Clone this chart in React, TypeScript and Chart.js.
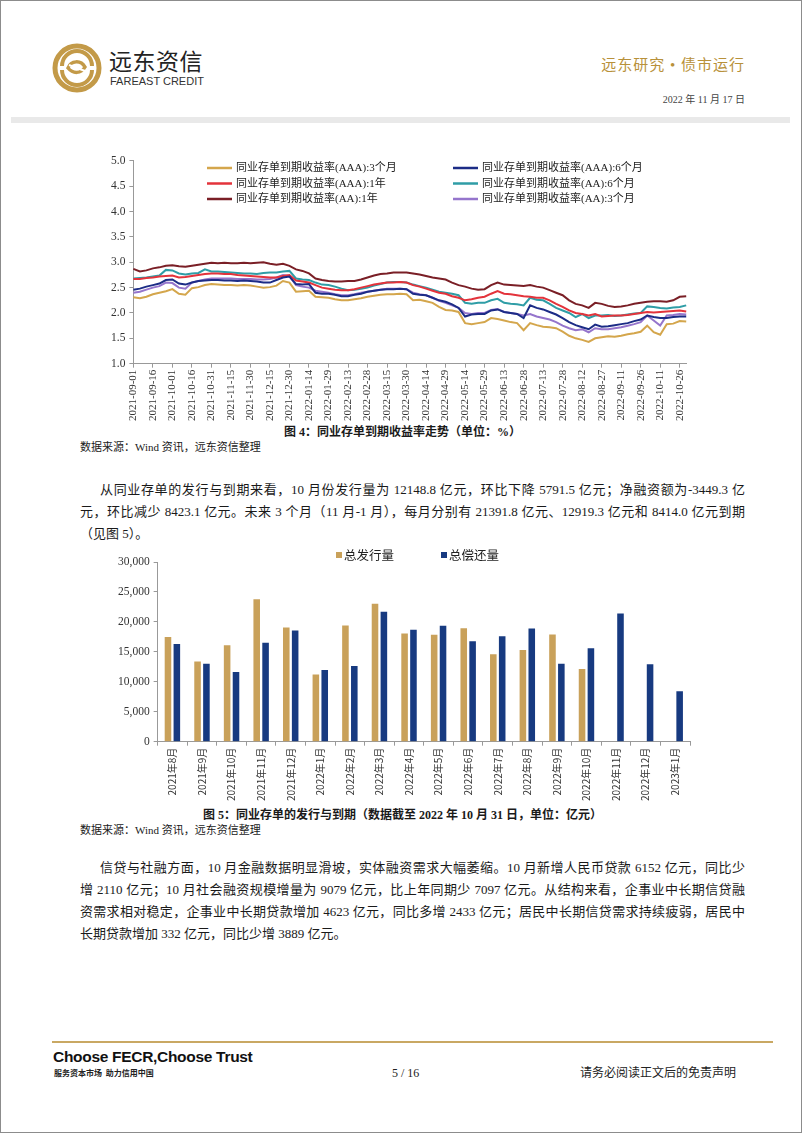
import React, { useEffect, useRef } from "react";
import { Chart, registerables } from "chart.js";
Chart.register(...registerables);

// ---------- Chart 1 data (every 5 days from 2021-09-01) ----------
const START_UTC = Date.UTC(2021, 8, 1);
const dates: string[] = Array.from({ length: 86 }, (_, i) =>
  new Date(START_UTC + i * 5 * 86400000).toISOString().slice(0, 10)
);
const tickDates = [
  "2021-09-01", "2021-09-16", "2021-10-01", "2021-10-16", "2021-10-31", "2021-11-15", "2021-11-30",
  "2021-12-15", "2021-12-30", "2022-01-14", "2022-01-29", "2022-02-13", "2022-02-28", "2022-03-15",
  "2022-03-30", "2022-04-14", "2022-04-29", "2022-05-14", "2022-05-29", "2022-06-13", "2022-06-28",
  "2022-07-13", "2022-07-28", "2022-08-12", "2022-08-27", "2022-09-11", "2022-09-26", "2022-10-11",
  "2022-10-26",
];
const seriesNames = [
  "同业存单到期收益率(AAA):3个月",
  "同业存单到期收益率(AAA):6个月",
  "同业存单到期收益率(AAA):1年",
  "同业存单到期收益率(AA):6个月",
  "同业存单到期收益率(AA):1年",
  "同业存单到期收益率(AA):3个月",
];
const aaa3m = [2.31,2.29,2.32,2.37,2.40,2.43,2.47,2.38,2.36,2.49,2.51,2.55,2.57,2.56,2.55,2.55,2.54,2.55,2.54,2.52,2.50,2.51,2.54,2.63,2.60,2.42,2.43,2.44,2.32,2.31,2.30,2.27,2.25,2.25,2.27,2.29,2.32,2.34,2.36,2.37,2.37,2.38,2.37,2.25,2.26,2.23,2.20,2.12,2.06,2.05,2.02,1.80,1.78,1.80,1.82,1.90,1.88,1.85,1.82,1.80,1.66,1.80,1.76,1.73,1.72,1.70,1.63,1.55,1.50,1.47,1.43,1.50,1.52,1.54,1.53,1.55,1.58,1.60,1.63,1.75,1.62,1.57,1.78,1.79,1.84,1.83];
const aaa6m = [2.46,2.48,2.52,2.55,2.58,2.65,2.66,2.58,2.56,2.60,2.63,2.64,2.65,2.65,2.64,2.64,2.63,2.64,2.63,2.62,2.60,2.60,2.65,2.70,2.72,2.57,2.56,2.57,2.40,2.38,2.38,2.36,2.33,2.33,2.36,2.38,2.42,2.44,2.46,2.47,2.47,2.48,2.47,2.38,2.36,2.35,2.30,2.25,2.22,2.17,2.10,1.93,1.97,1.98,1.98,2.05,2.07,2.02,2.00,1.98,1.90,2.15,2.10,2.07,2.02,1.97,1.90,1.82,1.76,1.72,1.68,1.77,1.73,1.74,1.76,1.78,1.80,1.84,1.87,1.95,1.92,1.90,1.90,1.92,1.93,1.93];
const aaa1y = [2.67,2.67,2.69,2.70,2.72,2.73,2.74,2.70,2.71,2.73,2.75,2.77,2.78,2.78,2.77,2.77,2.75,2.74,2.73,2.72,2.71,2.70,2.70,2.73,2.75,2.64,2.62,2.60,2.55,2.50,2.48,2.46,2.45,2.45,2.47,2.50,2.53,2.56,2.58,2.60,2.60,2.61,2.60,2.55,2.52,2.48,2.44,2.40,2.38,2.33,2.30,2.25,2.27,2.30,2.32,2.38,2.43,2.38,2.37,2.35,2.33,2.32,2.30,2.30,2.25,2.18,2.12,2.05,2.00,1.98,1.95,1.98,1.93,1.94,1.95,1.95,1.96,1.98,2.00,2.02,2.01,2.02,2.03,2.04,2.05,2.03];
const aa6m = [2.68,2.69,2.70,2.72,2.74,2.85,2.84,2.78,2.76,2.78,2.79,2.86,2.82,2.82,2.81,2.80,2.79,2.78,2.78,2.77,2.79,2.80,2.80,2.82,2.83,2.68,2.66,2.65,2.60,2.56,2.55,2.52,2.48,2.45,2.46,2.48,2.50,2.54,2.57,2.60,2.61,2.61,2.60,2.56,2.53,2.50,2.46,2.42,2.40,2.38,2.35,2.20,2.18,2.20,2.20,2.25,2.28,2.20,2.18,2.17,2.15,2.30,2.26,2.25,2.18,2.10,2.05,2.00,1.92,1.98,1.90,1.95,1.95,1.96,1.94,1.95,1.97,1.99,2.00,2.13,2.12,2.10,2.09,2.11,2.12,2.15];
const aa1y = [2.87,2.82,2.84,2.88,2.90,2.93,2.94,2.92,2.91,2.93,2.95,2.97,2.99,2.98,2.99,2.98,2.98,2.99,2.98,2.99,3.00,2.97,2.95,2.97,2.93,2.86,2.83,2.78,2.68,2.65,2.63,2.62,2.62,2.63,2.63,2.66,2.70,2.74,2.77,2.78,2.80,2.80,2.80,2.78,2.76,2.73,2.70,2.68,2.66,2.60,2.55,2.52,2.48,2.46,2.47,2.55,2.60,2.56,2.55,2.54,2.53,2.55,2.52,2.50,2.45,2.40,2.35,2.25,2.18,2.15,2.10,2.20,2.18,2.14,2.12,2.13,2.15,2.18,2.20,2.22,2.23,2.23,2.22,2.25,2.32,2.33];
const aa3m = [2.40,2.42,2.46,2.50,2.53,2.60,2.59,2.50,2.48,2.60,2.63,2.66,2.68,2.68,2.68,2.68,2.67,2.67,2.67,2.66,2.66,2.67,2.70,2.75,2.73,2.55,2.52,2.50,2.44,2.42,2.40,2.37,2.35,2.35,2.37,2.40,2.42,2.44,2.46,2.48,2.48,2.48,2.47,2.40,2.37,2.35,2.30,2.24,2.20,2.15,2.10,2.00,1.98,2.00,2.00,2.06,2.08,2.02,2.00,1.98,1.95,1.98,1.93,1.90,1.87,1.82,1.75,1.70,1.66,1.68,1.62,1.70,1.68,1.68,1.70,1.72,1.75,1.78,1.82,1.95,1.85,1.75,1.95,1.96,1.98,1.97];
const lineSeries = [aaa3m, aaa6m, aaa1y, aa6m, aa1y, aa3m];
const lineColors = ["#D4A64C", "#1C2C86", "#E3333B", "#2F9DA6", "#7A1F26", "#9575CC"];
const yTicks1 = [1.0, 1.5, 2.0, 2.5, 3.0, 3.5, 4.0, 4.5, 5.0];

// ---------- Chart 2 data ----------
const months = [
  "2021年8月", "2021年9月", "2021年10月", "2021年11月", "2021年12月", "2022年1月", "2022年2月",
  "2022年3月", "2022年4月", "2022年5月", "2022年6月", "2022年7月", "2022年8月", "2022年9月",
  "2022年10月", "2022年11月", "2022年12月", "2023年1月",
];
const issuance = [17500, 13400, 16100, 23800, 19050, 11200, 19400, 23050, 18050, 17850, 18950, 14600, 15300, 17900, 12148.8, null, null, null];
const redemption = [16300, 13000, 11650, 16500, 18550, 11950, 12650, 21700, 18700, 19350, 16750, 17600, 18900, 13000, 15598.1, 21391.8, 12919.3, 8414.0];
const barNames = ["总发行量", "总偿还量"];
const barColors = ["#C9A15A", "#173A80"];

const SERIF = '"Liberation Serif", "Noto Sans CJK SC", serif';
const SANS_CJK = '"Noto Sans CJK SC", "Liberation Sans", sans-serif';

const lineLegendPlugin = {
  id: "lineLegend",
  afterDraw(chart: any) {
    const ctx = chart.ctx;
    const colX = [122, 368];
    const rowY = [18, 33.5, 49];
    ctx.save();
    ctx.font = '11px "Liberation Serif", "Noto Sans CJK SC"';
    ctx.textBaseline = "middle";
    chart.data.datasets.forEach((ds: any, i: number) => {
      const x = colX[i % 2];
      const y = rowY[Math.floor(i / 2)];
      ctx.strokeStyle = ds.borderColor;
      ctx.lineWidth = 2.5;
      ctx.beginPath();
      ctx.moveTo(x, y);
      ctx.lineTo(x + 25, y);
      ctx.stroke();
      ctx.fillStyle = "#222";
      ctx.fillText(ds.label, x + 29, y + 0.5);
    });
    ctx.restore();
  },
};

const barLegendPlugin = {
  id: "barLegend",
  afterDraw(chart: any) {
    const ctx = chart.ctx;
    const xs = [236, 341];
    const y = 15;
    ctx.save();
    ctx.font = '12.5px "Noto Sans CJK SC"';
    ctx.textBaseline = "middle";
    chart.data.datasets.forEach((ds: any, i: number) => {
      ctx.fillStyle = ds.backgroundColor;
      ctx.fillRect(xs[i], y - 3, 6, 6);
      ctx.fillStyle = "#222";
      ctx.fillText(ds.label, xs[i] + 8, y);
    });
    ctx.restore();
  },
};

function LineChart() {
  const ref = useRef<HTMLCanvasElement>(null);
  useEffect(() => {
    const chart = new Chart(ref.current!, {
      type: "line",
      data: {
        labels: dates,
        datasets: lineSeries.map((d, i) => ({
          label: seriesNames[i],
          data: d,
          borderColor: lineColors[i],
          backgroundColor: lineColors[i],
          borderWidth: 2,
          pointRadius: 0,
          tension: 0,
        })),
      },
      options: {
        animation: false,
        responsive: false,
        maintainAspectRatio: false,
        layout: { padding: { left: 22, right: 8, top: 10, bottom: 0 } },
        plugins: { legend: { display: false }, tooltip: { enabled: false } },
        scales: {
          x: {
            grid: { display: true, drawOnChartArea: false, drawTicks: true, tickLength: 4, color: "#999" },
            border: { color: "#999" },
            ticks: {
              autoSkip: false,
              maxRotation: 90,
              minRotation: 90,
              padding: 2,
              color: "#333",
              font: { family: SERIF, size: 11 },
              callback: (_v: any, i: number) => (tickDates.includes(dates[i]) ? dates[i] : null),
            },
          },
          y: {
            min: 1,
            max: 5,
            afterBuildTicks: (axis: any) => {
              axis.ticks = yTicks1.map((v) => ({ value: v }));
            },
            grid: { display: true, drawOnChartArea: false, drawTicks: true, tickLength: 4, color: "#999" },
            border: { color: "#999" },
            ticks: {
              padding: 4,
              color: "#333",
              font: { family: SERIF, size: 11.5 },
              callback: (v: any) => Number(v).toFixed(1),
            },
          },
        },
      } as any,
      plugins: [lineLegendPlugin],
    });
    return () => chart.destroy();
  }, []);
  return (
    <canvas
      ref={ref}
      width={610}
      height={273}
      style={{ position: "absolute", left: 85, top: 150, width: 610, height: 273 }}
    />
  );
}

function BarChart() {
  const ref = useRef<HTMLCanvasElement>(null);
  useEffect(() => {
    const chart = new Chart(ref.current!, {
      type: "bar",
      data: {
        labels: months,
        datasets: [issuance, redemption].map((d, i) => ({
          label: barNames[i],
          data: d,
          backgroundColor: barColors[i],
          categoryPercentage: 0.6,
          barPercentage: 0.74,
        })),
      },
      options: {
        animation: false,
        responsive: false,
        maintainAspectRatio: false,
        layout: { padding: { left: 14, right: 10, top: 22, bottom: 0 } },
        plugins: { legend: { display: false }, tooltip: { enabled: false } },
        scales: {
          x: {
            grid: { display: true, drawOnChartArea: false, drawTicks: true, tickLength: 4, color: "#999", offset: true },
            border: { color: "#999" },
            ticks: {
              autoSkip: false,
              maxRotation: 90,
              minRotation: 90,
              padding: 2,
              color: "#333",
              font: { family: SANS_CJK, size: 10 },
            },
          },
          y: {
            min: 0,
            max: 30000,
            grid: { display: true, drawOnChartArea: false, drawTicks: true, tickLength: 4, color: "#999" },
            border: { color: "#999" },
            ticks: {
              stepSize: 5000,
              padding: 4,
              color: "#333",
              font: { family: SERIF, size: 11.5 },
              callback: (v: any) => Number(v).toLocaleString("en-US"),
            },
          },
        },
      } as any,
      plugins: [barLegendPlugin],
    });
    return () => chart.destroy();
  }, []);
  return (
    <canvas
      ref={ref}
      width={600}
      height={263}
      style={{ position: "absolute", left: 100, top: 540, width: 600, height: 263 }}
    />
  );
}

function Line({ top, left, width, text, justify, size = 13, bold = false, center = false }: any) {
  return (
    <div
      style={{
        position: "absolute",
        top: top - 9,
        left,
        width,
        height: 18,
        lineHeight: "18px",
        fontSize: size,
        fontWeight: bold ? 700 : 400,
        fontFamily: SERIF,
        color: "#1a1a1a",
        whiteSpace: "nowrap",
        textAlign: center ? "center" : justify ? "justify" : "left",
        textAlignLast: center ? "center" : justify ? "justify" : "left",
      } as any}
    >
      {text}
    </div>
  );
}

function Logo() {
  const g = "#C39A48";
  return (
    <svg width={52} height={52} viewBox="0 0 52 52" style={{ position: "absolute", left: 51, top: 42 }}>
      <circle cx={26} cy={26} r={22} fill="none" stroke={g} strokeWidth={5} />
      <path d="M11 24 A15 15 0 0 1 41 24" fill="none" stroke={g} strokeWidth={4} />
      <path d="M41 28 A15 15 0 0 1 11 28" fill="none" stroke={g} strokeWidth={4} />
      <path d="M17 26 C20 18, 30 18, 34 25 C30 32, 22 32, 17 26 Z" fill="none" stroke={g} strokeWidth={3.5} />
      <path d="M18 23 L34 29" stroke="#fff" strokeWidth={2} />
    </svg>
  );
}

export default function App() {
  return (
    <div
      style={{
        position: "absolute",
        left: 0,
        top: 0,
        width: 802,
        height: 1133,
        boxSizing: "border-box",
        border: "1px solid #8c8c8c",
        background: "#fff",
        overflow: "hidden",
      }}
    >
      <div style={{ position: "absolute", left: -1, top: -1, width: 802, height: 1133 }}>
        <Logo />
        <div style={{ position: "absolute", left: 109, top: 45, fontFamily: SANS_CJK, fontSize: 23, color: "#222", lineHeight: "30px", letterSpacing: 0.5 }}>
          远东资信
        </div>
        <div style={{ position: "absolute", left: 110, top: 75, fontFamily: '"Liberation Sans", sans-serif', fontSize: 11, color: "#333", lineHeight: "13px" }}>
          FAREAST CREDIT
        </div>
        <div style={{ position: "absolute", right: 57, top: 55, fontFamily: SERIF, fontSize: 15, color: "#B8913A", lineHeight: "20px", letterSpacing: 1 }}>
          远东研究 • 债市运行
        </div>
        <div style={{ position: "absolute", right: 57, top: 93, fontFamily: SERIF, fontSize: 10, color: "#444", lineHeight: "14px" }}>
          2022 年 11 月 17 日
        </div>
        <div style={{ position: "absolute", left: 11, top: 117, width: 779, height: 6, background: "#e9e9e9" }} />

        <LineChart />
        <Line top={432} left={80} width={645} center bold size={12} text="图 4：同业存单到期收益率走势（单位：%）" />
        <Line top={447} left={80} size={11} text="数据来源：Wind 资讯，远东资信整理" />

        <Line top={490} left={100} width={645} justify text="从同业存单的发行与到期来看，10 月份发行量为 12148.8 亿元，环比下降 5791.5 亿元；净融资额为-3449.3 亿" />
        <Line top={512} left={80} width={665} justify text="元，环比减少 8423.1 亿元。未来 3 个月（11 月-1 月），每月分别有 21391.8 亿元、12919.3 亿元和 8414.0 亿元到期" />
        <Line top={534} left={80} text="（见图 5）。" />

        <BarChart />
        <Line top={815} left={80} width={645} center bold size={12} text="图 5：同业存单的发行与到期（数据截至 2022 年 10 月 31 日，单位：亿元）" />
        <Line top={830} left={80} size={11} text="数据来源：Wind 资讯，远东资信整理" />

        <Line top={868} left={100} width={645} justify text="信贷与社融方面，10 月金融数据明显滑坡，实体融资需求大幅萎缩。10 月新增人民币贷款 6152 亿元，同比少" />
        <Line top={890} left={80} width={665} justify text="增 2110 亿元；10 月社会融资规模增量为 9079 亿元，比上年同期少 7097 亿元。从结构来看，企事业中长期信贷融" />
        <Line top={912} left={80} width={665} justify text="资需求相对稳定，企事业中长期贷款增加 4623 亿元，同比多增 2433 亿元；居民中长期信贷需求持续疲弱，居民中" />
        <Line top={934} left={80} text="长期贷款增加 332 亿元，同比少增 3889 亿元。" />

        <div style={{ position: "absolute", left: 52, top: 1041, width: 721, height: 2, background: "#C9A863" }} />
        <div style={{ position: "absolute", left: 53, top: 1048, fontFamily: '"Liberation Sans", Arial, sans-serif', fontSize: 15.5, fontWeight: 700, color: "#111", lineHeight: "18px", letterSpacing: -0.3 }}>
          Choose FECR,Choose Trust
        </div>
        <div style={{ position: "absolute", left: 54, top: 1067, fontFamily: SANS_CJK, fontSize: 8, fontWeight: 700, color: "#222", lineHeight: "11px", whiteSpace: "pre" }}>
          {"服务资本市场  助力信用中国"}
        </div>
        <div style={{ position: "absolute", left: 392, top: 1066, fontFamily: SERIF, fontSize: 12, color: "#222", lineHeight: "14px" }}>
          5 / 16
        </div>
        <div style={{ position: "absolute", left: 580, top: 1065, fontFamily: SERIF, fontSize: 12, color: "#222", lineHeight: "16px" }}>
          请务必阅读正文后的免责声明
        </div>
      </div>
    </div>
  );
}
